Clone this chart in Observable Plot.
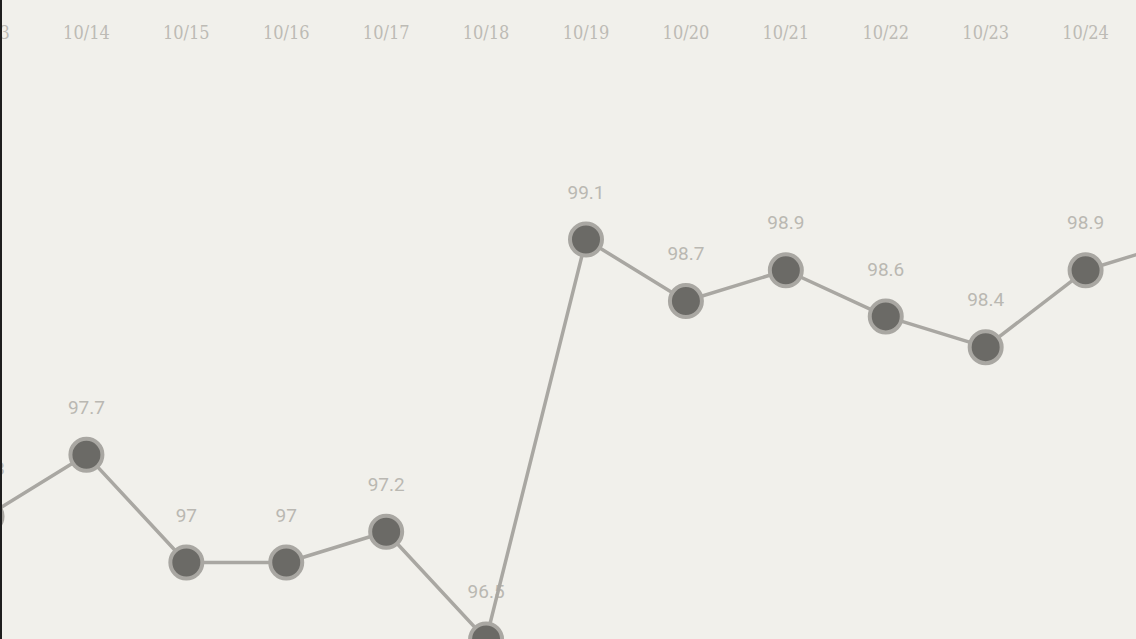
<!DOCTYPE html>
<html>
<head>
<meta charset="utf-8">
<script src="https://cdn.jsdelivr.net/npm/d3@7"></script>
<script src="https://cdn.jsdelivr.net/npm/@observablehq/plot@0.6"></script>
<style>
  html, body { margin: 0; padding: 0; background: #f1f0eb; overflow: hidden; width: 1136px; height: 639px; }
  #chart svg { display: block; background: #f1f0eb; }
  #chart svg .ticklabels text { font-stretch: condensed; }
</style>
</head>
<body>
<div id="chart"></div>
<script>
const dates = ["10/13", "10/14", "10/15", "10/16", "10/17", "10/18", "10/19", "10/20", "10/21", "10/22", "10/23", "10/24", "10/25"];
const temps = [97.3, 97.7, 97.0, 97.0, 97.2, 96.5, 99.1, 98.7, 98.9, 98.6, 98.4, 98.9, 99.1];

const data = dates.map((d, i) => ({date: d, temp: temps[i]}));

const chart = Plot.plot({
  width: 1136,
  height: 639,
  marginTop: 0, marginBottom: 0, marginLeft: 0, marginRight: 0,
  style: {background: "#f1f0eb", overflow: "hidden"},
  x: {type: "point", domain: dates, range: [-14, 1185], padding: 0, round: false, axis: null},
  y: {domain: [96, 100], range: [562 + 153.8, 562 - 3 * 153.8], axis: null},
  marks: [
    Plot.text(dates, {
      x: d => d, frameAnchor: "top", lineAnchor: "middle", dy: 33, text: d => d,
      fontFamily: "'DejaVu Serif Condensed', 'DejaVu Serif', serif", fontSize: 18, fill: "#bdbbb5",
      className: "ticklabels"
    }),
    Plot.text(data, {
      x: "date", y: "temp", dy: -47, text: d => String(d.temp),
      fontFamily: "Roboto", fontSize: 19, fill: "#bab8b2"
    }),
    Plot.line(data, {x: "date", y: "temp", stroke: "#a9a7a2", strokeWidth: 3.5}),
    Plot.dot(data, {x: "date", y: "temp", r: 16, fill: "#6b6a66", stroke: "#a9a7a2", strokeWidth: 4}),
    Plot.frame({anchor: "left", stroke: "#1e1e1e", strokeWidth: 3})
  ]
});
document.getElementById("chart").append(chart);
</script>
</body>
</html>
